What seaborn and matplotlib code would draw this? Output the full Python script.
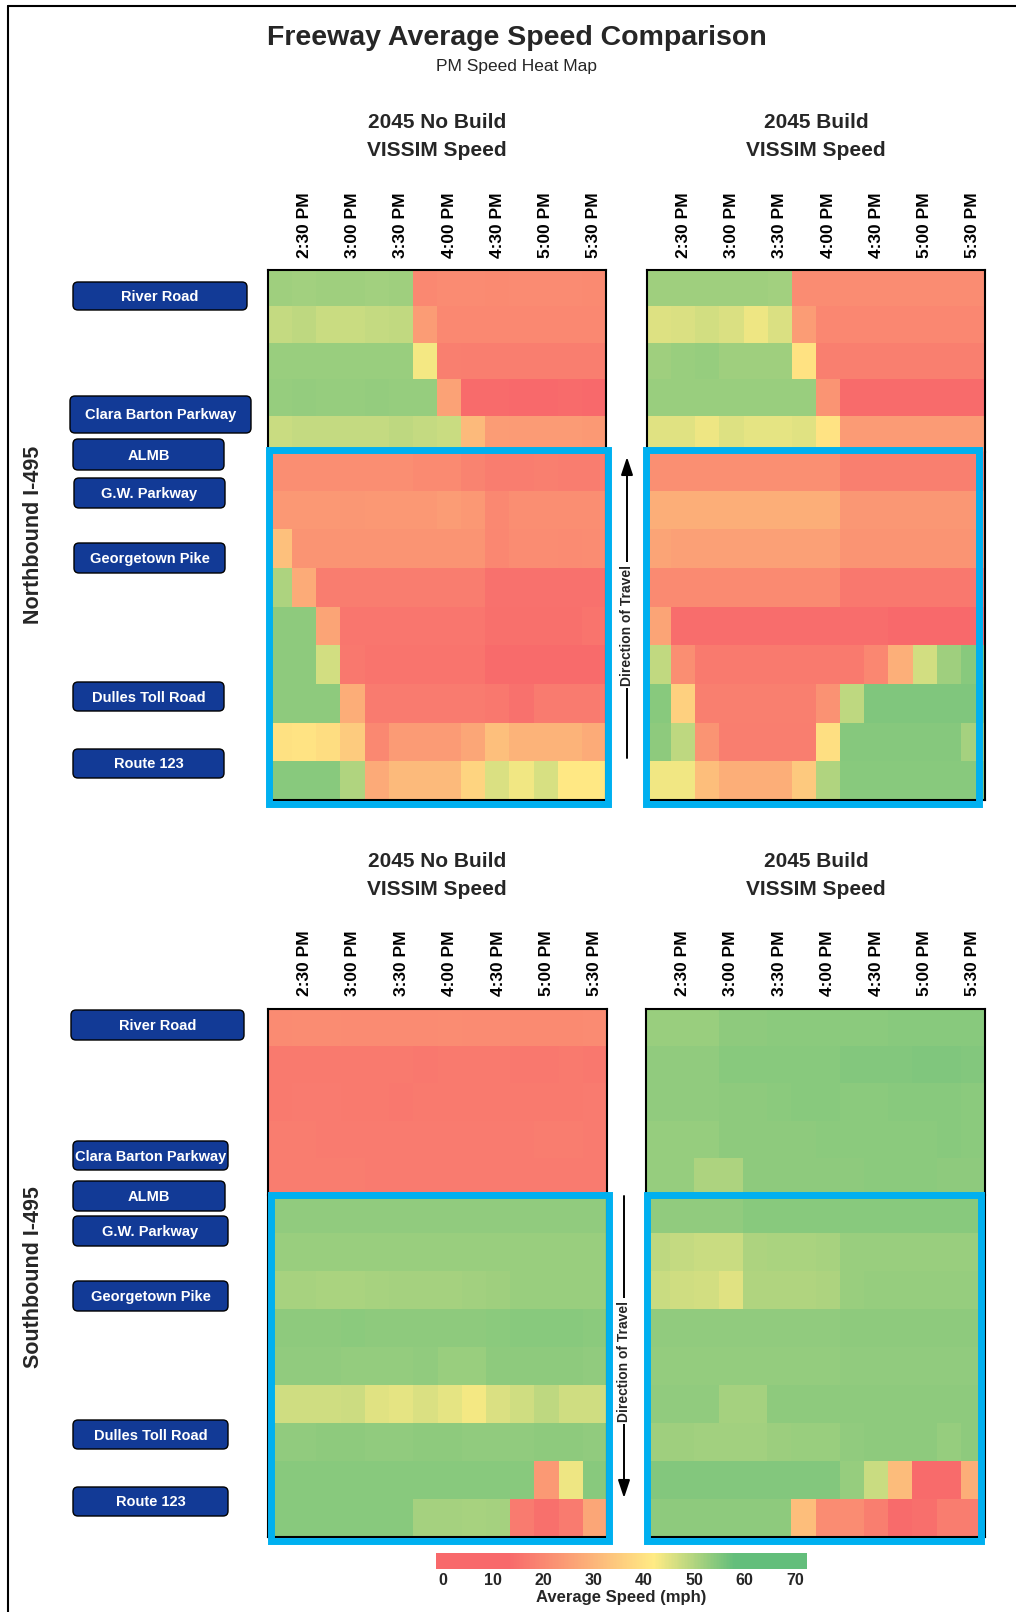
import numpy as np
import pandas as pd
import seaborn as sns
import matplotlib.pyplot as plt
from matplotlib.colors import LinearSegmentedColormap
from matplotlib.patches import Rectangle, FancyBboxPatch

# columns of the heat maps (15 min intervals), labels shown on every other one
times = ['2:15 PM', '2:30 PM', '2:45 PM', '3:00 PM', '3:15 PM', '3:30 PM', '3:45 PM',
         '4:00 PM', '4:15 PM', '4:30 PM', '4:45 PM', '5:00 PM', '5:15 PM', '5:30 PM']

# average speeds (mph), one row per freeway segment
nb_no_build = [
    [51.7, 51.6, 51.7, 51.7, 51.6, 51.7, 20.2, 20.6, 20.6, 20.5, 20.6, 20.6, 20.6, 20.5],
    [48.1, 48.5, 47.6, 47.6, 48.1, 48.2, 24.4, 20.1, 20.1, 20.2, 20.1, 20.1, 20.2, 20.1],
    [52.3, 52.3, 52.3, 52.3, 52.3, 52.3, 43.2, 18.1, 17.8, 17.8, 17.9, 17.9, 17.8, 17.9],
    [52.7, 52.8, 52.7, 52.7, 52.8, 52.7, 52.7, 25.7, 13.4, 13.4, 13.3, 13.3, 13.4, 13.3],
    [47.6, 48.1, 48.1, 48.1, 48.1, 48.5, 48.1, 47.6, 30.9, 24.4, 24.2, 24.0, 24.2, 23.9],
    [21.3, 21.3, 21.3, 21.3, 21.3, 21.3, 20.4, 20.4, 18.8, 17.5, 17.5, 18.1, 17.5, 17.5],
    [23.5, 23.5, 23.5, 23.3, 23.5, 23.5, 23.5, 24.4, 23.5, 20.2, 21.3, 21.3, 21.3, 21.3],
    [32.6, 22.6, 22.6, 22.6, 22.6, 22.6, 22.6, 22.6, 22.6, 19.7, 20.8, 20.8, 20.6, 20.8],
    [50.4, 28.0, 17.5, 17.5, 17.5, 17.5, 17.5, 17.5, 17.5, 14.8, 14.8, 14.8, 14.8, 14.8],
    [53.6, 53.6, 26.2, 15.9, 15.9, 15.9, 15.9, 15.9, 15.9, 14.6, 14.6, 14.6, 14.6, 15.5],
    [53.6, 53.6, 46.5, 16.3, 15.5, 15.5, 15.5, 15.5, 15.5, 13.4, 13.4, 13.4, 13.4, 13.4],
    [53.6, 53.6, 53.6, 28.2, 17.2, 17.2, 17.2, 17.2, 17.2, 16.3, 14.8, 17.2, 17.2, 17.2],
    [39.8, 40.4, 38.9, 34.9, 20.1, 24.2, 24.2, 24.2, 26.6, 32.2, 29.7, 29.7, 29.7, 28.0],
    [54.0, 54.0, 54.0, 50.1, 27.5, 30.9, 30.9, 30.9, 36.9, 45.6, 43.4, 45.9, 41.3, 41.3],
]
nb_build = [
    [51.7, 51.7, 51.7, 51.7, 51.7, 51.6, 20.8, 20.8, 20.8, 20.8, 20.8, 20.8, 20.8, 20.8],
    [45.4, 45.6, 46.5, 45.7, 43.8, 45.6, 24.4, 19.7, 19.7, 19.7, 19.7, 19.7, 19.7, 19.7],
    [51.8, 52.3, 52.7, 51.8, 51.8, 51.8, 40.0, 18.1, 18.1, 18.1, 18.1, 18.1, 18.1, 18.1],
    [52.3, 52.3, 52.3, 52.3, 52.3, 52.3, 52.3, 22.8, 13.4, 13.4, 13.4, 13.4, 13.4, 13.4],
    [45.2, 45.2, 43.8, 45.4, 44.7, 44.7, 45.1, 40.4, 24.2, 24.2, 24.2, 24.2, 24.2, 24.2],
    [21.5, 21.5, 21.5, 21.5, 21.5, 21.5, 21.5, 21.5, 18.1, 18.1, 18.1, 18.1, 18.1, 18.1],
    [28.4, 28.4, 28.4, 28.4, 28.4, 28.4, 28.4, 28.4, 23.3, 23.3, 23.3, 23.3, 23.3, 23.3],
    [26.2, 25.3, 25.3, 25.3, 25.3, 25.3, 25.3, 25.3, 22.8, 22.8, 22.8, 22.8, 22.8, 22.8],
    [20.4, 20.4, 20.4, 20.4, 20.4, 20.4, 20.4, 20.4, 16.3, 16.3, 16.3, 16.3, 16.3, 16.3],
    [26.2, 14.1, 14.1, 14.1, 14.1, 14.1, 14.1, 14.1, 14.1, 14.1, 13.0, 13.0, 13.0, 13.0],
    [48.2, 21.3, 16.8, 16.8, 16.8, 16.8, 16.8, 16.8, 16.8, 19.9, 28.6, 46.5, 51.7, 54.0],
    [54.0, 36.0, 18.1, 18.1, 18.1, 18.1, 18.1, 22.2, 48.5, 55.0, 55.0, 55.0, 55.0, 55.0],
    [53.6, 48.5, 22.8, 17.9, 17.9, 17.9, 17.9, 39.3, 54.4, 54.4, 54.4, 54.4, 54.4, 51.1],
    [43.3, 43.3, 31.8, 28.4, 28.4, 28.4, 34.4, 50.1, 54.0, 54.0, 54.0, 54.0, 54.0, 54.0],
]
sb_no_build = [
    [20.6, 20.8, 20.8, 20.6, 20.6, 20.6, 20.6, 20.8, 20.6, 20.6, 20.4, 20.4, 20.4, 20.6],
    [17.0, 17.0, 17.0, 17.0, 17.0, 16.8, 16.3, 16.8, 17.0, 16.8, 16.3, 16.3, 16.8, 16.3],
    [17.0, 17.2, 17.2, 16.8, 16.8, 16.3, 16.8, 16.8, 16.8, 16.8, 16.8, 17.0, 17.0, 17.2],
    [17.5, 17.5, 17.2, 17.2, 17.2, 17.2, 17.2, 17.2, 17.2, 17.2, 17.2, 17.5, 17.5, 17.2],
    [17.5, 17.5, 17.5, 17.5, 17.2, 17.2, 17.2, 17.2, 17.2, 17.2, 17.2, 17.2, 17.2, 17.2],
    [53.1, 53.3, 53.3, 53.3, 53.3, 53.3, 53.1, 53.1, 53.1, 53.1, 53.3, 53.3, 53.3, 53.1],
    [52.4, 52.4, 52.4, 52.4, 52.4, 52.4, 52.4, 52.4, 52.3, 52.3, 52.4, 52.4, 52.4, 52.4],
    [51.0, 50.9, 50.5, 50.5, 50.9, 51.2, 51.2, 51.2, 51.5, 51.7, 52.3, 52.3, 52.3, 52.3],
    [53.6, 53.6, 53.6, 53.8, 53.6, 53.6, 53.6, 53.6, 53.6, 53.8, 54.0, 54.0, 54.0, 53.8],
    [53.3, 53.1, 53.1, 52.9, 52.9, 52.9, 53.3, 52.3, 52.3, 53.6, 53.6, 53.6, 53.6, 53.1],
    [46.8, 46.8, 46.8, 47.2, 45.2, 44.6, 45.6, 44.7, 43.1, 45.6, 46.8, 48.5, 46.8, 46.8],
    [53.1, 53.1, 53.6, 53.6, 53.1, 53.1, 53.6, 53.6, 53.1, 53.1, 53.1, 53.6, 53.6, 53.1],
    [54.0, 54.0, 54.0, 54.0, 54.0, 54.0, 54.0, 54.0, 54.0, 54.0, 54.0, 23.9, 43.8, 54.0],
    [54.0, 54.0, 54.0, 54.0, 54.0, 54.0, 51.1, 51.1, 50.9, 51.1, 17.2, 14.6, 17.2, 26.8],
]
sb_build = [
    [52.3, 52.3, 52.3, 53.6, 53.6, 53.8, 53.8, 53.8, 53.8, 53.8, 54.0, 54.0, 54.0, 54.0],
    [53.1, 53.1, 53.1, 54.0, 54.0, 54.2, 54.2, 54.2, 54.7, 54.7, 54.7, 54.9, 54.9, 54.7],
    [53.1, 53.1, 53.1, 53.6, 53.6, 53.8, 54.0, 54.0, 53.8, 53.8, 54.0, 54.0, 54.0, 53.8],
    [52.7, 52.7, 52.7, 53.6, 53.6, 53.6, 53.6, 53.8, 53.8, 53.8, 53.8, 53.8, 54.0, 53.8],
    [52.7, 52.7, 50.4, 50.4, 53.6, 53.6, 53.6, 53.6, 53.6, 53.8, 53.8, 53.8, 53.6, 53.6],
    [53.1, 53.1, 53.1, 53.1, 54.0, 54.0, 54.0, 54.0, 54.0, 54.0, 54.0, 54.2, 54.2, 54.0],
    [48.5, 48.1, 47.6, 47.6, 50.4, 50.6, 50.6, 50.9, 52.3, 52.3, 52.3, 52.3, 52.3, 52.3],
    [47.6, 47.0, 46.5, 45.2, 50.1, 50.1, 50.1, 50.3, 52.3, 52.7, 52.7, 52.7, 52.7, 52.7],
    [53.2, 53.2, 53.2, 53.2, 53.2, 53.2, 53.2, 53.2, 53.4, 53.4, 53.6, 53.6, 53.6, 53.4],
    [52.8, 52.8, 52.8, 52.8, 52.8, 52.8, 52.9, 52.9, 53.1, 53.1, 53.3, 53.3, 53.3, 53.3],
    [53.1, 53.1, 53.1, 51.1, 51.1, 53.6, 53.4, 53.4, 53.6, 53.6, 53.6, 53.6, 53.6, 53.6],
    [51.8, 51.8, 51.5, 51.5, 51.5, 52.1, 52.3, 52.3, 53.1, 53.6, 53.6, 53.6, 52.7, 53.6],
    [54.7, 54.7, 54.7, 54.7, 54.7, 54.7, 54.7, 54.7, 52.7, 47.6, 31.5, 13.4, 13.4, 28.4],
    [53.6, 53.6, 53.6, 53.6, 53.6, 53.6, 31.8, 21.0, 21.0, 17.7, 13.4, 14.3, 17.5, 17.5],
]

scenario_titles = ['2045 No Build\nVISSIM Speed', '2045 Build\nVISSIM Speed']
direction_titles = ['Northbound I-495', 'Southbound I-495']
nb_segments = ['River Road', 'Clara Barton Parkway', 'ALMB', 'G.W. Parkway',
               'Georgetown Pike', 'Dulles Toll Road', 'Route 123']
sb_segments = ['River Road', 'Clara Barton Parkway', 'ALMB', 'G.W. Parkway',
               'Georgetown Pike', 'Dulles Toll Road', 'Route 123']
cbar_ticks = [0, 10, 20, 30, 40, 50, 60, 70]
N_OUTSIDE = 5  # first rows sit outside the study area box

sns.set_theme(style='white')
plt.rcParams['font.family'] = ['Liberation Sans', 'DejaVu Sans']

W, H = 1016, 1612
VMIN, VMAX = -1.4, 72.4
NAVY = '#123A96'
BLUE = '#00B0F0'


def frac(v):
    return (v - VMIN) / (VMAX - VMIN)


# excel-like red / yellow / green scale
speed_cmap = LinearSegmentedColormap.from_list('speed', [
    (0.0, '#F8696B'), (frac(13), '#F8696B'), (frac(42), '#FFEB84'),
    (frac(58), '#63BE7B'), (1.0, '#63BE7B')])

fig = plt.figure(figsize=(W / 100, H / 100), dpi=100)

# overlay axes in pixel units for the page furniture
ov = fig.add_axes([0, 0, 1, 1])
ov.set_xlim(0, W)
ov.set_ylim(H, 0)
ov.axis('off')


def px_axes(x0, y0, w, h):
    return fig.add_axes([x0 / W, 1 - (y0 + h) / H, w / W, h / H])


def plain_heatmap(ax, df):
    sns.heatmap(df, ax=ax, cmap=speed_cmap, vmin=VMIN, vmax=VMAX, cbar=False,
                xticklabels=False, yticklabels=False)
    ax.set_xlabel('')
    ax.set_ylabel('')
    for s in ax.spines.values():
        s.set_visible(True)
        s.set_color('black')
        s.set_linewidth(1.5)


def draw_panel(values, x0, y0, w, y_split, y1, box):
    df = pd.DataFrame(values, columns=times)
    top = px_axes(x0, y0, w, y_split - y0)
    bot = px_axes(x0, y_split, w, y1 - y_split)
    plain_heatmap(top, df.iloc[:N_OUTSIDE])
    plain_heatmap(bot, df.iloc[N_OUTSIDE:])
    top.spines['bottom'].set_visible(False)
    bot.spines['top'].set_visible(False)

    top.xaxis.tick_top()
    top.set_xticks(np.arange(1, len(times), 2) + 0.5)
    top.set_xticklabels(times[1::2], rotation=90, fontsize=12.5, fontweight='bold', color='black')
    top.tick_params(axis='x', length=0, pad=9)

    # study area box
    bx0, bx1, by0, by1 = box
    bot.add_patch(Rectangle((bx0, by0), bx1 - bx0, by1 - by0, fill=False,
                            edgecolor=BLUE, linewidth=5, clip_on=False, zorder=5))
    return bot


panels = [
    (nb_no_build, (268, 270, 338, 452, 800), (0.06, 14.1, -0.05, 9.1)),
    (nb_build, (647, 270, 338, 452, 800), (-0.04, 13.77, -0.05, 9.1)),
    (sb_no_build, (268, 1009, 339, 1195, 1537), (0.12, 14.08, 0.0, 9.1)),
    (sb_build, (646, 1009, 339, 1195, 1537), (0.04, 13.85, 0.0, 9.1)),
]
axes = []
for values, rect, bx in panels:
    axes.append(draw_panel(values, *rect, bx))

# titles
ov.text(517, 38, 'Freeway Average Speed Comparison', ha='center', va='center',
        fontsize=20.5, fontweight='bold')
ov.text(517, 66, 'PM Speed Heat Map', ha='center', va='center', fontsize=12.5)
for ty in [136.5, 875.5]:
    for j, cx in enumerate([437, 816]):
        ov.text(cx, ty, scenario_titles[j], ha='center', va='center', fontsize=15,
                fontweight='bold', linespacing=1.6)

ov.text(34, 535, direction_titles[0], rotation=90, ha='center', va='center',
        fontsize=15.5, fontweight='bold')
ov.text(34, 1277, direction_titles[1], rotation=90, ha='center', va='center',
        fontsize=15.5, fontweight='bold')

# segment label boxes (x0, y0, w, h) in pixels
nb_boxes = [(73, 282, 174, 28), (70, 396, 181, 37), (73, 439, 151, 31), (74, 478, 151, 30),
            (74, 543, 151, 30), (73, 682, 151, 29), (73, 749, 151, 29)]
sb_boxes = [(71, 1010, 173, 30), (73, 1141, 155, 29), (73, 1181, 152, 30), (73, 1216, 155, 30),
            (73, 1281, 155, 30), (73, 1420, 155, 29), (73, 1487, 155, 29)]
for names, boxes in [(nb_segments, nb_boxes), (sb_segments, sb_boxes)]:
    for name, (x0, y0, w, h) in zip(names, boxes):
        ov.add_patch(FancyBboxPatch((x0, y0), w, h, boxstyle='round,pad=0,rounding_size=5',
                                    facecolor=NAVY, edgecolor='black', linewidth=1))
        ov.text(x0 + w / 2, y0 + h / 2 + 1, name, ha='center', va='center', color='white',
                fontsize=10.5, fontweight='bold')

# direction of travel arrows
arrow_kw = dict(arrowstyle='-|>,head_length=0.9,head_width=0.3', color='black', lw=1.4,
                shrinkA=0, shrinkB=0)
ov.annotate('', xy=(627, 457), xytext=(627, 758), arrowprops=arrow_kw)
ov.text(627, 625, 'Direction of Travel', rotation=90, ha='center', va='center', fontsize=10,
        fontweight='bold', zorder=5, bbox=dict(facecolor='white', edgecolor='none', pad=1.5))
ov.annotate('', xy=(624, 1498), xytext=(624, 1196), arrowprops=arrow_kw)
ov.text(624, 1361, 'Direction of Travel', rotation=90, ha='center', va='center', fontsize=10,
        fontweight='bold', zorder=5, bbox=dict(facecolor='white', edgecolor='none', pad=1.5))

# page border
ov.plot([8, 8], [H, 6], color='black', lw=1.5, clip_on=False)
ov.plot([8, W], [6, 6], color='black', lw=1.5, clip_on=False)

# colour bar
cax = px_axes(436, 1553, 371, 16)
cb = fig.colorbar(axes[0].collections[0], cax=cax, orientation='horizontal')
cb.set_ticks(cbar_ticks)
cb.outline.set_visible(False)
cax.tick_params(length=0, pad=3, labelsize=11.5)
for t in cax.get_xticklabels():
    t.set_fontweight('bold')
cb.set_label('Average Speed (mph)', fontsize=12, fontweight='bold', labelpad=1)

fig.savefig('out.png', dpi=100)
